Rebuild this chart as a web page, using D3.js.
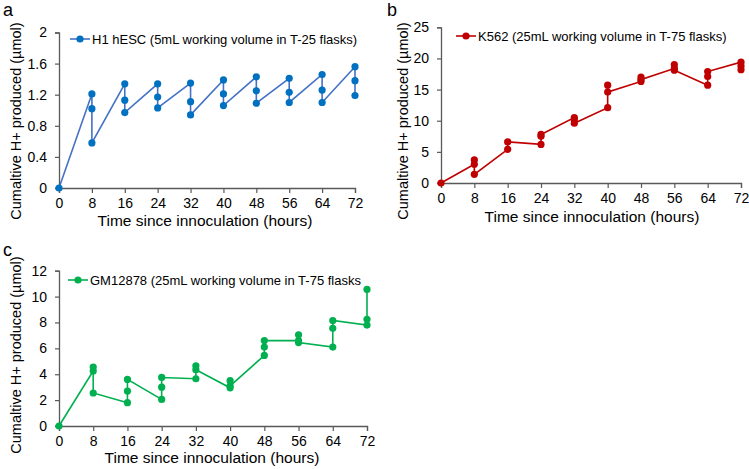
<!DOCTYPE html>
<html>
<head>
<meta charset="utf-8">
<script src="https://cdn.jsdelivr.net/npm/d3@7"></script>
<style>
  body { margin: 0; background: #fff; }
  text { font-family: "Liberation Sans", Arial, sans-serif; fill: #000; }
</style>
</head>
<body>
<div id="main"></div>
<script>
// time points (hours) in the order the line visits them
var hesc_t = [0, 8, 8, 8, 16, 16, 16, 24, 24, 24, 32, 32, 32, 40, 40, 40, 48, 48, 48, 56, 56, 56, 64, 64, 64, 72, 72, 72];
var hesc_y = [0, 1.21, 1.02, 0.58, 1.34, 1.13, 0.97, 1.34, 1.17, 1.03, 1.35, 1.11, 0.94, 1.39, 1.21, 1.06, 1.43, 1.25, 1.09, 1.41, 1.23, 1.10, 1.46, 1.26, 1.10, 1.56, 1.38, 1.19];

var k562_t = [0, 8, 8, 8, 16, 16, 24, 24, 24, 32, 32, 32, 40, 40, 40, 48, 48, 48, 56, 56, 56, 64, 64, 64, 72, 72, 72];
var k562_y = [0, 3.0, 3.7, 1.4, 5.4, 6.6, 6.2, 7.5, 7.8, 10.5, 10.1, 9.6, 12.1, 15.7, 14.6, 16.3, 17.0, 16.6, 18.4, 19.0, 18.1, 15.7, 17.1, 17.9, 19.4, 18.8, 18.2];

var gm_t = [0, 8, 8, 8, 16, 16, 16, 24, 24, 24, 32, 32, 32, 40, 40, 40, 48, 48, 48, 56, 56, 56, 64, 64, 64, 72, 72, 72];
var gm_y = [0, 4.25, 4.55, 2.55, 1.8, 2.7, 3.6, 2.05, 3.0, 3.75, 3.65, 4.65, 4.35, 2.95, 3.5, 3.1, 5.45, 6.1, 6.6, 6.6, 7.05, 6.45, 6.1, 7.55, 8.15, 7.8, 8.25, 10.55];

var xTicks = [0, 8, 16, 24, 32, 40, 48, 56, 64, 72];
var hescTicks = [0, 0.4, 0.8, 1.2, 1.6, 2];
var k562Ticks = [0, 5, 10, 15, 20, 25];
var gmTicks = [0, 2, 4, 6, 8, 10, 12];

var yTitle = 'Cumaltive H+ produced (\u00b5mol)';
var xTitle = 'Time since innoculation (hours)';

var svg = d3.select('#main')
  .append('svg')
  .attr('width', 749)
  .attr('height', 469);

function drawPanel(p) {
  var x = d3.scaleLinear().domain([0, 72]).range([p.x0, p.x1]);
  var y = d3.scaleLinear().domain([0, p.ticks[p.ticks.length - 1]]).range([p.y0, p.y1]);
  var g = svg.append('g');

  var xAxis = g.append('g')
    .attr('transform', 'translate(0,' + p.y0 + ')')
    .call(d3.axisBottom(x).tickValues(xTicks).tickSize(5).tickPadding(5));
  var yAxis = g.append('g')
    .attr('transform', 'translate(' + p.x0 + ',0)')
    .call(d3.axisLeft(y).tickValues(p.ticks).tickFormat(function(d) { return String(d); })
      .tickSize(4).tickPadding(8));
  [xAxis, yAxis].forEach(function(a) {
    a.select('.domain').attr('stroke', '#595959').attr('stroke-width', 1.3);
    a.selectAll('.tick line').attr('stroke', '#595959').attr('stroke-width', 1.2);
    a.selectAll('.tick text').style('font-size', '14px').attr('fill', '#000');
  });

  var pts = p.t.map(function(t, i) { return [t, p.y[i]]; });

  g.append('path')
    .datum(pts)
    .attr('fill', 'none')
    .attr('stroke', p.line)
    .attr('stroke-width', 1.6)
    .attr('d', d3.line()
      .x(function(d) { return x(d[0]); })
      .y(function(d) { return y(d[1]); }));

  g.selectAll('circle.pt')
    .data(pts)
    .enter()
    .append('circle')
    .attr('class', 'pt')
    .attr('cx', function(d) { return x(d[0]); })
    .attr('cy', function(d) { return y(d[1]); })
    .attr('r', 3.6)
    .attr('fill', p.dot);

  // legend
  g.append('line')
    .attr('x1', p.lx).attr('x2', p.lx + 20)
    .attr('y1', p.ly).attr('y2', p.ly)
    .attr('stroke', p.line).attr('stroke-width', 1.6);
  g.append('circle')
    .attr('cx', p.lx + 10).attr('cy', p.ly).attr('r', 3.6)
    .attr('fill', p.dot);
  g.append('text')
    .attr('x', p.lx + 22).attr('y', p.ly + 5)
    .style('font-size', '13px')
    .text(p.legend);

  g.append('text')
    .attr('x', p.xlx).attr('y', p.xly)
    .attr('text-anchor', 'middle')
    .style('font-size', '15.5px')
    .text(xTitle);

  g.append('text')
    .attr('transform', 'translate(' + p.ylx + ',' + p.yly + ') rotate(-90)')
    .attr('text-anchor', 'middle')
    .style('font-size', '14.5px')
    .text(yTitle);

  g.append('text')
    .attr('x', p.tagx).attr('y', p.tagy)
    .style('font-size', '18px')
    .text(p.tag);
}

drawPanel({
  t: hesc_t, y: hesc_y, ticks: hescTicks,
  x0: 59, x1: 355, y0: 188, y1: 32.5,
  line: '#4472C4', dot: '#0070C0',
  lx: 70, ly: 39, legend: 'H1 hESC (5mL working volume in T-25 flasks)',
  xlx: 205, xly: 226, ylx: 21, yly: 121,
  tag: 'a', tagx: 3, tagy: 16
});

drawPanel({
  t: k562_t, y: k562_y, ticks: k562Ticks,
  x0: 441, x1: 741, y0: 183, y1: 27.3,
  line: '#C00000', dot: '#C00000',
  lx: 456, ly: 36, legend: 'K562 (25mL working volume in T-75 flasks)',
  xlx: 592, xly: 222, ylx: 408, yly: 121,
  tag: 'b', tagx: 387, tagy: 16
});

drawPanel({
  t: gm_t, y: gm_y, ticks: gmTicks,
  x0: 59, x1: 367, y0: 426, y1: 270.7,
  line: '#00B050', dot: '#00B050',
  lx: 68, ly: 280, legend: 'GM12878 (25mL working volume in T-75 flasks',
  xlx: 212, xly: 463, ylx: 21, yly: 355,
  tag: 'c', tagx: 3, tagy: 256
});
</script>
</body>
</html>
